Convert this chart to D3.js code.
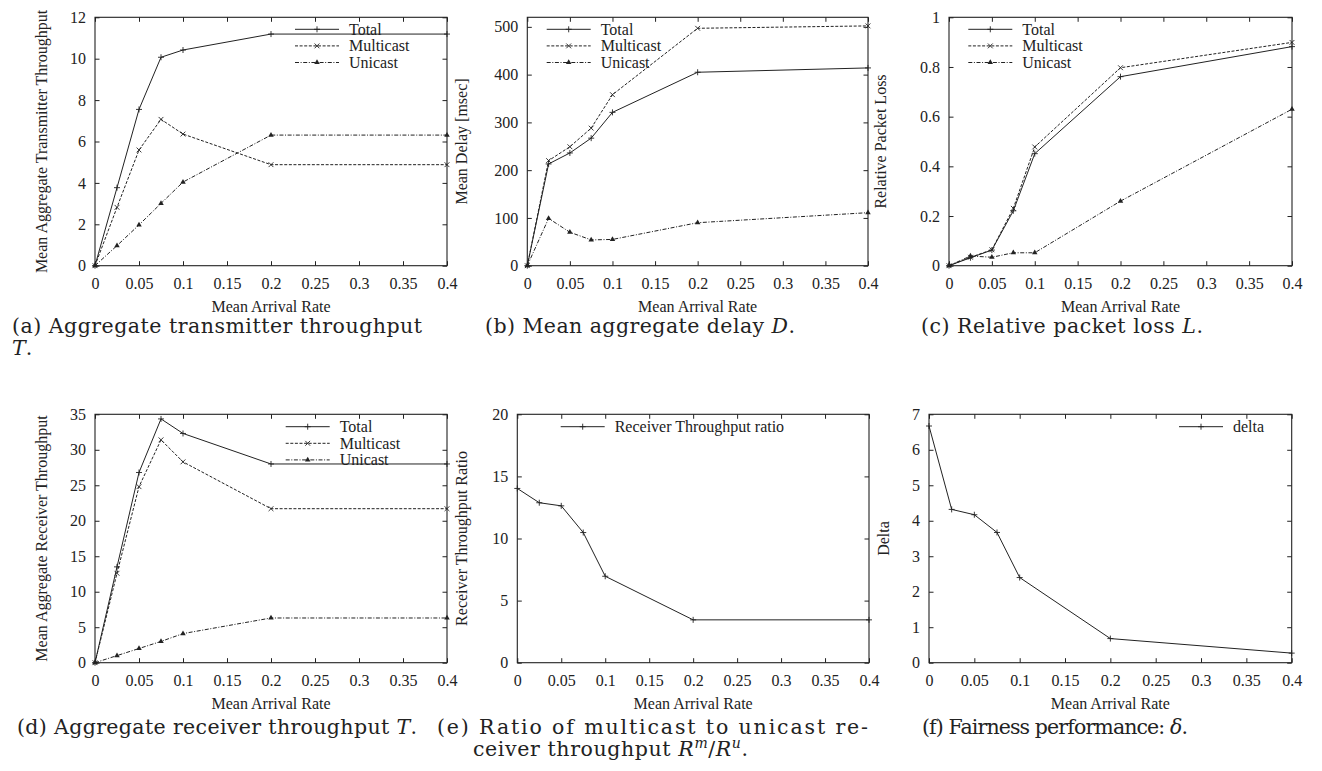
<!DOCTYPE html>
<html>
<head>
<meta charset="utf-8">
<script src="https://cdn.jsdelivr.net/npm/d3@7"></script>
<style>
  body { margin: 0; background: #fff; }
</style>
</head>
<body>
<svg id="fig" width="1322" height="771"></svg>
<script>
// Mean arrival rate (x values shared by every panel)
const rates = [0, 0.025, 0.05, 0.075, 0.1, 0.2, 0.4];
const xTicks = [0, 0.05, 0.1, 0.15, 0.2, 0.25, 0.3, 0.35, 0.4];

// (a) aggregate transmitter throughput
const txTotal = [0, 3.77, 7.55, 10.07, 10.42, 11.19, 11.19];
const txMulticast = [0, 2.82, 5.59, 7.07, 6.36, 4.88, 4.88];
const txUnicast = [0, 0.97, 1.97, 3.01, 4.04, 6.31, 6.31];

// (b) mean delay [msec]
const delayTotal = [0, 213, 236, 267, 321, 405, 414];
const delayMulticast = [0, 220, 249, 288, 358, 497, 502];
const delayUnicast = [0, 99, 70, 54, 55, 90, 111];

// (c) relative packet loss
const lossTotal = [0, 0.032, 0.063, 0.221, 0.451, 0.761, 0.882];
const lossMulticast = [0, 0.034, 0.064, 0.231, 0.478, 0.797, 0.899];
const lossUnicast = [0, 0.039, 0.034, 0.052, 0.052, 0.26, 0.63];

// (d) aggregate receiver throughput
const rxTotal = [0, 13.5, 26.8, 34.35, 32.3, 28.0, 28.0];
const rxMulticast = [0, 12.6, 24.8, 31.4, 28.3, 21.7, 21.7];
const rxUnicast = [0, 1.0, 2.0, 3.0, 4.1, 6.3, 6.3];

// (e) receiver throughput ratio, (f) delta
const ratio = [14.03, 12.88, 12.63, 10.48, 6.96, 3.45, 3.45];
const delta = [6.67, 4.32, 4.17, 3.67, 2.4, 0.68, 0.27];

const svg = d3.select('#fig');
const ink = '#222';
const serif = "'Liberation Serif', 'Times New Roman', serif";
const capFont = "'DejaVu Serif', serif";
const fmt = (d) => String(+d.toFixed(2));

// gnuplot-like line styles
const styles = {
  total: { dash: null, marker: 'plus' },
  multicast: { dash: '3,1.6', marker: 'cross' },
  unicast: { dash: '4,1.6,1,1.6', marker: 'triangle' },
};

const drawMarker = (g, type, cx, cy) => {
  if (type === 'triangle') {
    g.append('path')
      .attr('d', d3.symbol(d3.symbolTriangle, 13)())
      .attr('transform', `translate(${cx},${cy})`)
      .attr('fill', ink);
  } else {
    const p = type === 'plus'
      ? 'M-3,0H3M0,-3V3'
      : 'M-2.4,-2.4L2.4,2.4M-2.4,2.4L2.4,-2.4';
    g.append('path')
      .attr('d', p)
      .attr('transform', `translate(${cx},${cy})`)
      .attr('stroke', ink)
      .attr('stroke-width', 0.9)
      .attr('fill', 'none');
  }
};

const styleAxis = (sel) => {
  sel.select('.domain').remove();
  sel.selectAll('.tick line').attr('stroke', ink).attr('stroke-width', 1);
  sel.attr('font-family', serif).attr('font-size', 16);
  sel.selectAll('text').style('font-family', serif).style('font-size', '16px').attr('fill', ink);
};

const label = (g, txt) => g.append('text')
  .style('font-family', serif)
  .style('font-size', '16px')
  .attr('fill', ink)
  .text(txt);

const drawPanel = ({ box, yMax, yTicks, yLabel, yLabelX, series, legend }) => {
  const x = d3.scaleLinear().domain([0, 0.4]).range([box.left, box.right]);
  const y = d3.scaleLinear().domain([0, yMax]).range([box.bottom, box.top]);
  const g = svg.append('g');
  const tick = -4.5;

  g.append('g')
    .attr('transform', `translate(0,${box.bottom})`)
    .call(d3.axisBottom(x).tickValues(xTicks).tickSize(tick).tickPadding(11.6).tickFormat(fmt))
    .call(styleAxis);
  g.append('g')
    .attr('transform', `translate(0,${box.top})`)
    .call(d3.axisTop(x).tickValues(xTicks).tickSize(tick).tickFormat(''))
    .call(styleAxis);
  g.append('g')
    .attr('transform', `translate(${box.left},0)`)
    .call(d3.axisLeft(y).tickValues(yTicks).tickSize(tick).tickPadding(9).tickFormat(fmt))
    .call(styleAxis);
  g.append('g')
    .attr('transform', `translate(${box.right},0)`)
    .call(d3.axisRight(y).tickValues(yTicks).tickSize(tick).tickFormat(''))
    .call(styleAxis);

  g.append('rect')
    .attr('x', box.left)
    .attr('y', box.top)
    .attr('width', box.right - box.left)
    .attr('height', box.bottom - box.top)
    .attr('fill', 'none')
    .attr('stroke', ink)
    .attr('stroke-width', 1.1);

  // axis labels
  label(g, yLabel)
    .attr('transform', `translate(${yLabelX},${(box.top + box.bottom) / 2}) rotate(-90)`)
    .attr('text-anchor', 'middle')
    .attr('dy', '0.35em');
  label(g, 'Mean Arrival Rate')
    .attr('x', (box.left + box.right) / 2)
    .attr('y', box.bottom + 46)
    .attr('text-anchor', 'middle');

  const line = d3.line().x((d, i) => x(rates[i])).y((d) => y(d));

  series.forEach((s) => {
    const st = styles[s.style];
    g.append('path')
      .datum(s.values)
      .attr('d', line)
      .attr('fill', 'none')
      .attr('stroke', ink)
      .attr('stroke-width', 1)
      .attr('stroke-dasharray', st.dash);
    s.values.forEach((v, i) => drawMarker(g, st.marker, x(rates[i]), y(v)));
  });

  // key
  series.forEach((s, i) => {
    const st = styles[s.style];
    const ly = legend.y + i * 16.6;
    g.append('line')
      .attr('x1', legend.x)
      .attr('x2', legend.x + 44)
      .attr('y1', ly)
      .attr('y2', ly)
      .attr('stroke', ink)
      .attr('stroke-width', 1)
      .attr('stroke-dasharray', st.dash);
    drawMarker(g, st.marker, legend.x + 22, ly);
    label(g, s.name)
      .attr('x', legend.x + 54)
      .attr('y', ly)
      .attr('dy', '0.34em');
  });
};

drawPanel({
  box: { left: 95, right: 447, top: 17.3, bottom: 265.7 },
  yMax: 12, yTicks: d3.range(0, 13, 2),
  yLabel: 'Mean Aggregate Transmitter Throughput', yLabelX: 41,
  series: [
    { name: 'Total', values: txTotal, style: 'total' },
    { name: 'Multicast', values: txMulticast, style: 'multicast' },
    { name: 'Unicast', values: txUnicast, style: 'unicast' },
  ],
  legend: { x: 295, y: 29.3 },
});

drawPanel({
  box: { left: 527.3, right: 868, top: 17.3, bottom: 265.7 },
  yMax: 520, yTicks: d3.range(0, 501, 100),
  yLabel: 'Mean Delay [msec]', yLabelX: 461,
  series: [
    { name: 'Total', values: delayTotal, style: 'total' },
    { name: 'Multicast', values: delayMulticast, style: 'multicast' },
    { name: 'Unicast', values: delayUnicast, style: 'unicast' },
  ],
  legend: { x: 546.7, y: 29.3 },
});

drawPanel({
  box: { left: 949, right: 1292, top: 17.3, bottom: 265.7 },
  yMax: 1, yTicks: [0, 0.2, 0.4, 0.6, 0.8, 1],
  yLabel: 'Relative Packet Loss', yLabelX: 880,
  series: [
    { name: 'Total', values: lossTotal, style: 'total' },
    { name: 'Multicast', values: lossMulticast, style: 'multicast' },
    { name: 'Unicast', values: lossUnicast, style: 'unicast' },
  ],
  legend: { x: 968.3, y: 29.3 },
});

drawPanel({
  box: { left: 95, right: 447, top: 414.3, bottom: 662.7 },
  yMax: 35, yTicks: d3.range(0, 36, 5),
  yLabel: 'Mean Aggregate Receiver Throughput', yLabelX: 41,
  series: [
    { name: 'Total', values: rxTotal, style: 'total' },
    { name: 'Multicast', values: rxMulticast, style: 'multicast' },
    { name: 'Unicast', values: rxUnicast, style: 'unicast' },
  ],
  legend: { x: 285.7, y: 426.7 },
});

drawPanel({
  box: { left: 517.3, right: 869, top: 414.3, bottom: 662.7 },
  yMax: 20, yTicks: d3.range(0, 21, 5),
  yLabel: 'Receiver Throughput Ratio', yLabelX: 461,
  series: [{ name: 'Receiver Throughput ratio', values: ratio, style: 'total' }],
  legend: { x: 560.7, y: 426.7 },
});

drawPanel({
  box: { left: 929, right: 1291.7, top: 414.3, bottom: 662.7 },
  yMax: 7, yTicks: d3.range(0, 8, 1),
  yLabel: 'Delta', yLabelX: 883,
  series: [{ name: 'delta', values: delta, style: 'total' }],
  legend: { x: 1179, y: 426.7 },
});

// sub-figure captions
const caption = ({ x, y, parts, length }) => {
  const t = svg.append('text')
    .attr('x', x)
    .attr('y', y)
    .attr('fill', ink)
    .style('font-family', capFont)
    .style('font-size', '20.5px');
  if (length) t.attr('textLength', length).attr('lengthAdjust', 'spacing');
  parts.forEach((p) => {
    const s = t.append('tspan').text(p.t);
    if (p.i) s.style('font-style', 'italic');
    if (p.sup) s.style('font-size', '14px').attr('dy', -8);
    if (p.down) s.attr('dy', 8);
  });
};

caption({ x: 12, y: 333, length: 410, parts: [{ t: '(a) Aggregate transmitter throughput' }] });
caption({ x: 12, y: 355, parts: [{ t: 'T', i: true }, { t: '.' }] });
caption({ x: 485, y: 333, length: 310, parts: [{ t: '(b) Mean aggregate delay ' }, { t: 'D', i: true }, { t: '.' }] });
caption({ x: 921, y: 333, length: 282, parts: [{ t: '(c) Relative packet loss ' }, { t: 'L', i: true }, { t: '.' }] });
caption({ x: 17, y: 734, length: 400, parts: [{ t: '(d) Aggregate receiver throughput ' }, { t: 'T', i: true }, { t: '.' }] });
caption({ x: 437, y: 734, length: 431, parts: [{ t: '(e) Ratio of multicast to unicast re-' }] });
caption({
  x: 473, y: 756, length: 275,
  parts: [
    { t: 'ceiver throughput ' }, { t: 'R', i: true }, { t: 'm', i: true, sup: true },
    { t: '/', down: true }, { t: 'R', i: true }, { t: 'u', i: true, sup: true }, { t: '.', down: true },
  ],
});
caption({ x: 922, y: 734, length: 266, parts: [{ t: '(f) Fairness performance: ' }, { t: 'δ', i: true }, { t: '.' }] });
</script>
</body>
</html>
